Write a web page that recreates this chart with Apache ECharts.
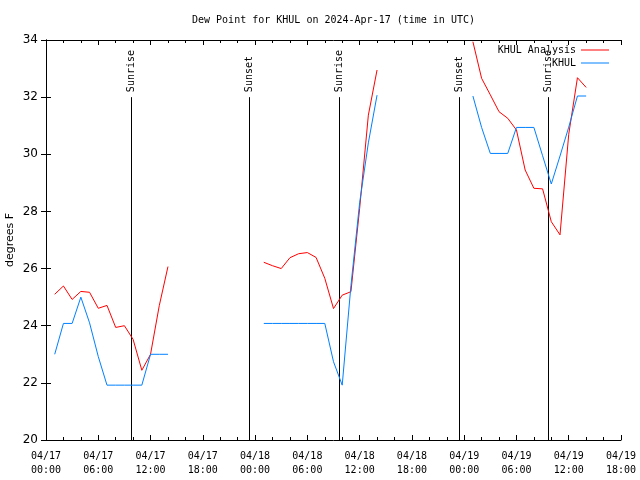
<!DOCTYPE html>
<html>
<head>
<meta charset="utf-8">
<script src="https://cdn.jsdelivr.net/npm/echarts@6/dist/echarts.min.js"></script>
<style>html,body{margin:0;padding:0;background:#fff}#c{width:640px;height:480px}</style>
</head>
<body>
<div id="c"></div>
<script>
// Hours since 2024-04-17 00:00 UTC
const tickLabels = ['04/17\n00:00','04/17\n06:00','04/17\n12:00','04/17\n18:00',
  '04/18\n00:00','04/18\n06:00','04/18\n12:00','04/18\n18:00',
  '04/19\n00:00','04/19\n06:00','04/19\n12:00','04/19\n18:00'];

const analysisHours = [1,2,3,4,5,6,7,8,9,10,11,12,13,14,
  25,26,27,28,29,30,31,32,33,34,35,36,37,38,
  49,50,51,52,53,54,55,56,57,58,59,60,61,62];
const analysisDewpt = [25.1,25.39,24.92,25.2,25.17,24.61,24.71,23.94,24.0,23.52,22.44,23.0,24.7,26.07,
  26.22,26.1,26.0,26.38,26.52,26.56,26.39,25.66,24.6,25.07,25.19,28.1,31.37,32.95,
  33.94,32.66,32.08,31.49,31.26,30.85,29.45,28.81,28.79,27.64,27.18,30.7,32.68,32.34];

const obsHours = [1,2,3,4,5,6,7,8,9,10,11,12,13,14,
  25,26,27,28,29,30,31,32,33,34,35,36,37,38,
  49,50,51,52,53,54,55,56,57,58,59,60,61,62];
const obsDewpt = [23.0,24.08,24.08,25.0,24.1,22.92,21.92,21.92,21.92,21.92,21.92,23.0,23.0,23.0,
  24.08,24.08,24.08,24.08,24.08,24.08,24.08,24.08,22.74,21.92,25.4,28.3,30.4,32.07,
  32.04,30.94,30.03,30.03,30.03,30.94,30.94,30.94,29.95,28.96,29.94,30.95,32.04,32.04];

const eventHours = [9.7, 23.32, 33.68, 47.35, 57.65];
const eventNames = ['Sunrise','Sunset','Sunrise','Sunset','Sunrise'];

function pairs(hs, vs) {
  const out = [];
  for (let i = 0; i < hs.length; i++) {
    if (i > 0 && hs[i] - hs[i-1] > 1) out.push([hs[i-1] + 1, '-']);
    out.push([hs[i], vs[i]]);
  }
  return out;
}

const MONO = '"DejaVu Sans Mono", "Liberation Mono", monospace';
const SANS = '"DejaVu Sans", "Liberation Sans", sans-serif';

const chart = echarts.init(document.getElementById('c'), null, {renderer: 'canvas'});

const xCommon = {
  type: 'value', min: 0, max: 66, interval: 6,
  axisLine: {show: true, lineStyle: {color: '#000', width: 1}},
  axisTick: {show: true, inside: true, length: 5, lineStyle: {color: '#000'}},
  minorTick: {show: true, splitNumber: 3, length: 3, lineStyle: {color: '#000'}},
  splitLine: {show: false}
};
const yCommon = {
  type: 'value', min: 20, max: 34, interval: 2,
  axisLine: {show: true, lineStyle: {color: '#000', width: 1}},
  axisTick: {show: true, inside: true, length: 5, lineStyle: {color: '#000'}},
  splitLine: {show: false}
};

chart.setOption({
  animation: false,
  backgroundColor: '#fff',
  title: {
    text: 'Dew Point for KHUL on 2024-Apr-17 (time in UTC)',
    left: 187, top: 10,
    textStyle: {fontFamily: MONO, fontSize: 10, fontWeight: 'normal', color: '#000'}
  },
  grid: {left: 46, top: 40, width: 575, height: 400, containLabel: false, outerBoundsMode: 'none'},
  legend: {
    data: [{name: 'KHUL Analysis', icon: 'rect'}, {name: 'KHUL', icon: 'rect'}],
    orient: 'vertical', align: 'right', right: 26, top: 39,
    itemWidth: 28, itemHeight: 1, itemGap: 1,
    textStyle: {fontFamily: MONO, fontSize: 10, color: '#000', lineHeight: 12}
  },
  xAxis: [
    Object.assign({}, xCommon, {
      position: 'bottom',
      axisLabel: {
        fontFamily: MONO, fontSize: 10, color: '#000', lineHeight: 14, margin: 9,
        formatter: v => tickLabels[Math.round(v / 6)]
      }
    }),
    Object.assign({}, xCommon, {position: 'top', axisLabel: {show: false}})
  ],
  yAxis: [
    Object.assign({}, yCommon, {
      position: 'left',
      name: 'degrees F', nameLocation: 'middle', nameGap: 30, nameRotate: 90,
      nameMoveOverlap: false,
      nameTextStyle: {fontFamily: SANS, fontSize: 11, color: '#000'},
      axisLabel: {fontFamily: SANS, fontSize: 12, color: '#000', margin: 8}
    }),
    Object.assign({}, yCommon, {position: 'right', axisLabel: {show: false}})
  ],
  series: [
    {
      type: 'custom', name: 'events',
      xAxisIndex: 0, yAxisIndex: 0,
      data: eventHours.map(h => [h, 32]),
      clip: false,
      renderItem: function (params, api) {
        const t = api.value(0);
        const top = api.coord([t, 32]);
        const bot = api.coord([t, 20]);
        const x = Math.round(top[0]) + 0.5;
        return {
          type: 'group',
          children: [
            {type: 'line', shape: {x1: x, y1: top[1], x2: x, y2: bot[1]},
             style: {stroke: '#000', lineWidth: 1}},
            {type: 'text', x: x, y: top[1] - 5, rotation: Math.PI / 2,
             style: {text: eventNames[params.dataIndex], fontFamily: MONO, fontSize: 10,
                     fill: '#000', align: 'left', verticalAlign: 'middle'}}
          ]
        };
      }
    },
    {
      type: 'line', name: 'KHUL Analysis',
      data: pairs(analysisHours, analysisDewpt),
      symbol: 'none', showSymbol: false,
      lineStyle: {color: '#ff0000', width: 1},
      itemStyle: {color: '#ff0000'}
    },
    {
      type: 'line', name: 'KHUL',
      data: pairs(obsHours, obsDewpt),
      symbol: 'none', showSymbol: false,
      lineStyle: {color: '#0080ff', width: 1},
      itemStyle: {color: '#0080ff'}
    }
  ]
});
</script>
</body>
</html>
